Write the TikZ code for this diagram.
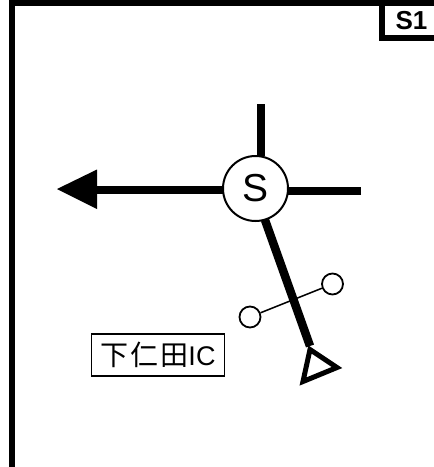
\documentclass[tikz,border=0pt]{standalone}
\usepackage{fontspec}
\setmainfont{Liberation Sans}
\newfontfamily\cjk{Noto Sans CJK JP}
\tikzset{
  road/.style={line width=8pt,line cap=butt},
  frameline/.style={line width=6pt},
  ramp/.style={circle,draw,line width=1.8pt,fill=white,minimum size=21pt,inner sep=0pt},
}
\begin{document}
\begin{tikzpicture}[x=1pt,y=-1pt]
\useasboundingbox (0,0) rectangle (434,467);
\fill[white] (0,0) rectangle (434,467);
% frame
\draw[frameline] (12,467) -- (12,2.5) -- (434,2.5);
\node[minimum width=49pt,minimum height=29pt,inner sep=0pt] (tag) at (411.5,20.5) {\fontsize{26}{26}\selectfont\bfseries S1};
\draw[frameline] (382,5) -- (382,37.5) -- (434,37.5);
% junction
\node[circle,draw,line width=2pt,fill=white,minimum size=65pt,inner sep=0pt] (S) at (255.5,188.5) {\fontsize{39}{39}\selectfont S};
\coordinate (N) at (261,104);
\coordinate (E) at (361,191);
\coordinate (W) at (97,190);
\coordinate (P) at (310,346);
\draw[road] (N) -- (261,156);
\draw[road] (E) -- (288,191);
\draw[road] (W) -- (223,190);
% arrowhead
\fill (57,189) -- (97,169.5) -- (97,209) -- cycle;
% interchange
\node[ramp] (a) at (250,317) {};
\node[ramp] (b) at (332.5,284) {};
\draw[line width=1.5pt] (a) -- (b);
\draw[line width=8.5pt] (265,220) -- (P);
% terminal triangle
\draw[line width=5pt,miter limit=10] (310,349.5) -- (337,367.5) -- (303,381.5) -- cycle;
% label
\node[draw,line width=1.3pt,minimum width=133pt,minimum height=42pt,inner sep=0pt] (L) at (158,355) {\cjk\fontsize{28}{28}\selectfont 下\kern2pt仁\kern2pt田\fontspec{Liberation Sans}\fontsize{27}{27}\selectfont IC};
\end{tikzpicture}
\end{document}
